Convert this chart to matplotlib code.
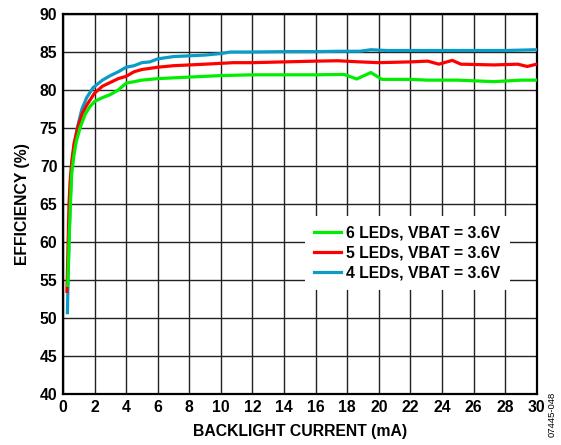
import matplotlib
matplotlib.use("Agg")
import matplotlib.pyplot as plt

plt.rcParams['font.family'] = ['Liberation Sans', 'DejaVu Sans']

# 4 LEDs, VBAT = 3.6V (blue)
x4 = [0.28, 0.32, 0.38, 0.45, 0.55, 0.7, 0.9, 1.2, 1.5, 1.9, 2.5, 3.0, 3.5, 4.0, 4.5, 5.0, 5.5, 6.0, 7.0, 8.0,
      9.0, 10.0, 10.6, 12.0, 14.0, 16.0, 17.5, 18.8, 19.5, 20.5, 22.0, 24.0, 26.0, 28.0, 30.0]
y4 = [50.7, 55.0, 60.0, 65.0, 70.0, 72.5, 75.0, 77.5, 79.0, 80.3, 81.3, 81.9, 82.4, 83.0, 83.2, 83.6, 83.7, 84.1, 84.4, 84.5,
      84.6, 84.8, 85.0, 85.0, 85.05, 85.05, 85.1, 85.1, 85.3, 85.2, 85.2, 85.2, 85.2, 85.2, 85.3]

# 5 LEDs, VBAT = 3.6V (red)
x5 = [0.25, 0.28, 0.33, 0.38, 0.45, 0.55, 0.7, 0.93, 1.2, 1.5, 2.0, 2.5, 3.0, 3.5, 4.0, 4.5, 5.0, 6.0, 7.0, 8.0,
      9.0, 10.8, 12.0, 14.0, 16.0, 17.4, 18.8, 20.0, 22.0, 23.1, 23.8, 24.65, 25.2, 27.3, 28.8, 29.4, 30.0]
y5 = [53.5, 56.0, 60.5, 65.0, 68.0, 70.5, 73.0, 75.0, 76.8, 78.0, 79.6, 80.5, 81.0, 81.5, 81.8, 82.4, 82.7, 83.0, 83.2, 83.3,
      83.4, 83.6, 83.6, 83.7, 83.8, 83.85, 83.7, 83.6, 83.7, 83.8, 83.4, 83.9, 83.4, 83.3, 83.4, 83.1, 83.4]

# 6 LEDs, VBAT = 3.6V (green)
x6 = [0.3, 0.34, 0.4, 0.47, 0.55, 0.7, 0.85, 1.08, 1.4, 1.7, 2.0, 2.5, 3.0, 3.5, 4.0, 5.0, 6.0, 8.0,
      10.0, 12.0, 14.0, 16.0, 17.8, 18.6, 19.5, 20.2, 22.0, 23.1, 25.0, 27.3, 29.0, 30.0]
y6 = [54.3, 57.0, 61.0, 65.0, 69.0, 71.5, 73.3, 75.0, 76.8, 77.8, 78.5, 79.0, 79.4, 80.0, 80.9, 81.3, 81.5, 81.7,
      81.9, 82.0, 82.0, 82.0, 82.05, 81.45, 82.3, 81.4, 81.4, 81.3, 81.3, 81.1, 81.3, 81.3]

xticks = list(range(0, 31, 2))
yticks = list(range(40, 91, 5))

FS = 11.3

fig = plt.figure(figsize=(5.61, 4.45), dpi=100)
ax = fig.add_axes([0.1123, 0.1146, 0.8444, 0.8539])

l4, = ax.plot(x4, y4, color='#0a9bc6', lw=2.3, label='4 LEDs, VBAT = 3.6V', zorder=3)
l5, = ax.plot(x5, y5, color='#ff0000', lw=2.3, label='5 LEDs, VBAT = 3.6V', zorder=4)
l6, = ax.plot(x6, y6, color='#00ee00', lw=2.3, label='6 LEDs, VBAT = 3.6V', zorder=5)

ax.set_xlim(0, 30)
ax.set_ylim(40, 90)
ax.set_xticks(xticks)
ax.set_yticks(yticks)
ax.tick_params(length=0, labelsize=FS, pad=4)
for lab in ax.get_xticklabels() + ax.get_yticklabels():
    lab.set_fontweight('bold')
ax.grid(True, color='#222222', lw=1.0)
ax.set_axisbelow(True)
for s in ax.spines.values():
    s.set_linewidth(1.6)
    s.set_color('black')

ax.set_xlabel('BACKLIGHT CURRENT (mA)', fontsize=FS, fontweight='bold', labelpad=7)
ax.set_ylabel('EFFICIENCY (%)', fontsize=FS, fontweight='bold', labelpad=7)

leg = ax.legend(handles=[l6, l5, l4], loc='center', bbox_to_anchor=(0.727, 0.372),
                frameon=True, framealpha=1, edgecolor='none', fancybox=False,
                prop={'weight': 'bold', 'size': FS}, handlelength=1.7,
                handletextpad=0.35, labelspacing=0.32, borderpad=0.6)
leg.set_zorder(10)

fig.text(0.985, 0.068, '07445-048', rotation=90, fontsize=6.8,
         ha='center', va='center')

fig.savefig('out.png', dpi=100)
